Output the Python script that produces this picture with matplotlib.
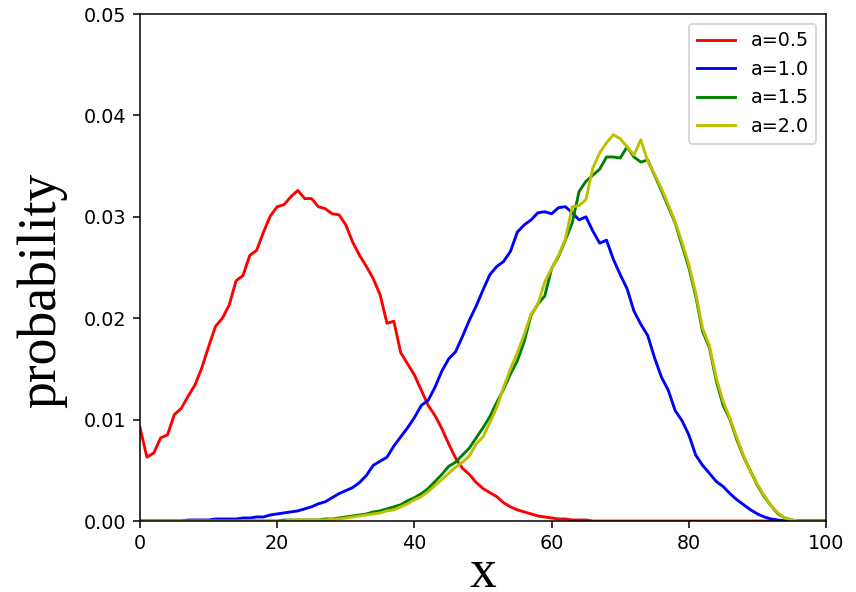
import numpy as np
import matplotlib
matplotlib.use("Agg")
import matplotlib.pyplot as plt

# значения, x = 0..100
x = np.arange(101)

red_05 = [0.0092, 0.0063, 0.0067, 0.0082, 0.0085, 0.0105, 0.0111, 0.0123, 0.0134, 0.0151,
          0.0172, 0.0192, 0.0200, 0.0213, 0.0237, 0.0242, 0.0262, 0.0267, 0.0285, 0.0301,
          0.0310, 0.0312, 0.0320, 0.0326, 0.0318, 0.0318, 0.0310, 0.0308, 0.0303, 0.0302,
          0.0292, 0.0275, 0.0262, 0.0251, 0.0239, 0.0223, 0.0195, 0.0197, 0.0166, 0.0155,
          0.0144, 0.0129, 0.0114, 0.0104, 0.0091, 0.0076, 0.0062, 0.0052, 0.0046, 0.0038,
          0.0032, 0.0028, 0.0024, 0.0018, 0.0014, 0.0011, 0.0009, 0.0007, 0.0005, 0.0004,
          0.0003, 0.0002, 0.0002, 0.0001, 0.0001, 0.0001, 0, 0, 0, 0,
          0, 0, 0, 0, 0, 0, 0, 0, 0, 0,
          0, 0, 0, 0, 0, 0, 0, 0, 0, 0,
          0, 0, 0, 0, 0, 0, 0, 0, 0, 0,
          0]

blue_10 = [0, 0, 0, 0, 0, 0, 0, 0.0001, 0.0001, 0.0001,
           0.0001, 0.0002, 0.0002, 0.0002, 0.0002, 0.0003, 0.0003, 0.0004, 0.0004, 0.0006,
           0.0007, 0.0008, 0.0009, 0.0010, 0.0012, 0.0014, 0.0017, 0.0019, 0.0023, 0.0027,
           0.0030, 0.0033, 0.0038, 0.0045, 0.0055, 0.0059, 0.0063, 0.0074, 0.0083, 0.0092,
           0.0102, 0.0114, 0.0119, 0.0132, 0.0148, 0.0160, 0.0167, 0.0182, 0.0198, 0.0212,
           0.0228, 0.0243, 0.0251, 0.0256, 0.0266, 0.0285, 0.0292, 0.0297, 0.0304, 0.0305,
           0.0303, 0.0309, 0.0310, 0.0304, 0.0297, 0.0300, 0.0286, 0.0274, 0.0277, 0.0258,
           0.0243, 0.0229, 0.0207, 0.0194, 0.0183, 0.0161, 0.0142, 0.0129, 0.0109, 0.0099,
           0.0085, 0.0065, 0.0055, 0.0047, 0.0039, 0.0034, 0.0027, 0.0021, 0.0016, 0.0011,
           0.0007, 0.0004, 0.0002, 0.0001, 0, 0, 0, 0, 0, 0,
           0]

green_15 = [0, 0, 0, 0, 0, 0, 0, 0, 0, 0,
            0, 0, 0, 0, 0, 0, 0, 0, 0, 0,
            0, 0.0001, 0.0001, 0.0001, 0.0001, 0.0001, 0.0001, 0.0002, 0.0002, 0.0003,
            0.0004, 0.0005, 0.0006, 0.0007, 0.0009, 0.0010, 0.0012, 0.0014, 0.0016, 0.0020,
            0.0023, 0.0027, 0.0032, 0.0039, 0.0046, 0.0054, 0.0058, 0.0065, 0.0072, 0.0082,
            0.0092, 0.0103, 0.0117, 0.0130, 0.0145, 0.0158, 0.0177, 0.0203, 0.0214, 0.0222,
            0.0249, 0.0261, 0.0277, 0.0294, 0.0325, 0.0335, 0.0341, 0.0347, 0.0359, 0.0359,
            0.0358, 0.0369, 0.0359, 0.0354, 0.0356, 0.0341, 0.0326, 0.0310, 0.0294, 0.0272,
            0.0250, 0.0222, 0.0187, 0.0171, 0.0138, 0.0114, 0.0100, 0.0080, 0.0063, 0.0049,
            0.0035, 0.0024, 0.0015, 0.0007, 0.0003, 0.0001, 0, 0, 0, 0,
            0]

yellow_20 = [0, 0, 0, 0, 0, 0, 0, 0, 0, 0,
             0, 0, 0, 0, 0, 0, 0, 0, 0, 0,
             0, 0, 0.0001, 0.0001, 0.0001, 0.0001, 0.0001, 0.0001, 0.0002, 0.0002,
             0.0003, 0.0004, 0.0005, 0.0006, 0.0007, 0.0008, 0.0010, 0.0011, 0.0014, 0.0017,
             0.0021, 0.0024, 0.0029, 0.0035, 0.0041, 0.0047, 0.0053, 0.0058, 0.0064, 0.0076,
             0.0083, 0.0097, 0.0112, 0.0132, 0.0150, 0.0166, 0.0184, 0.0204, 0.0214, 0.0236,
             0.0249, 0.0262, 0.0278, 0.0310, 0.0311, 0.0317, 0.0348, 0.0363, 0.0373, 0.0381,
             0.0377, 0.0369, 0.0361, 0.0376, 0.0355, 0.0342, 0.0328, 0.0312, 0.0295, 0.0275,
             0.0253, 0.0225, 0.0190, 0.0173, 0.0141, 0.0118, 0.0101, 0.0082, 0.0064, 0.0049,
             0.0036, 0.0025, 0.0015, 0.0008, 0.0003, 0.0001, 0, 0, 0, 0,
             0]

series = [red_05, blue_10, green_15, yellow_20]
labels = ['a=0.5', 'a=1.0', 'a=1.5', 'a=2.0']
colors = ['r', 'b', 'g', 'y']

fig = plt.figure(figsize=(856 / 138, 592 / 138), dpi=138)
ax = fig.add_axes([0.1636, 0.1199, 0.8014, 0.8564])

for y, lab, c in zip(series, labels, colors):
    ax.plot(x, y, color=c, label=lab)

ax.set_xlim(0, 100)
ax.set_ylim(0, 0.05)
ax.legend(loc='upper right')

ax.set_xlabel('x', family='Liberation Serif', fontsize=28)
ax.set_ylabel('probability', family='Liberation Serif', fontsize=28)
# подписи осей стоят не совсем по центру, как на исходнике
ax.xaxis.set_label_coords(0.5, -0.054)
ax.yaxis.set_label_coords(-0.106, 0.454)

fig.savefig('out.png', dpi=138)
